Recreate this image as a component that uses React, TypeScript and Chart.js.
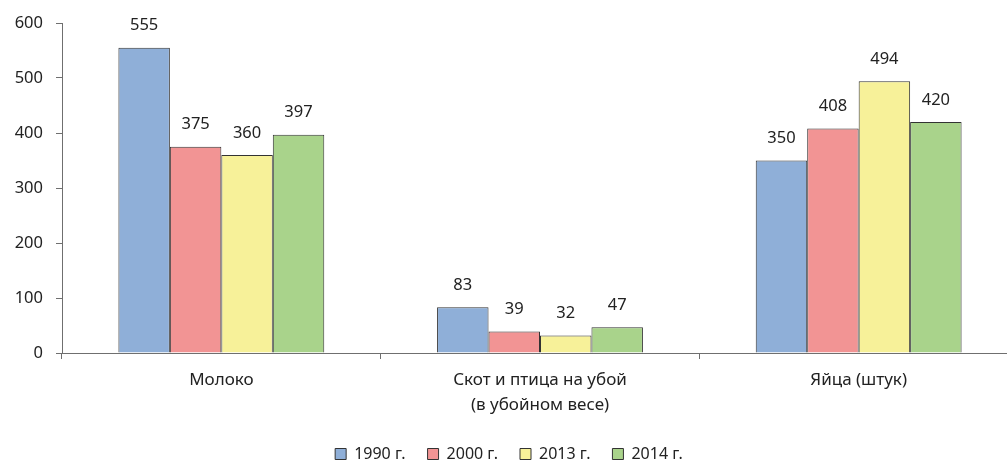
import React, { useEffect, useRef } from "react";
import { Chart, registerables } from "chart.js";

Chart.register(...registerables);

const categories: (string | string[])[] = [
  "Молоко",
  ["Скот и птица на убой", "(в убойном весе)"],
  "Яйца (штук)",
];
const seriesNames = ["1990 г.", "2000 г.", "2013 г.", "2014 г."];
const values1990 = [555, 83, 350];
const values2000 = [375, 39, 408];
const values2013 = [360, 32, 494];
const values2014 = [397, 47, 420];
const fillColors = ["#8FAFD8", "#F29494", "#F7F199", "#A9D38B"];
const yTicksMin = 0;
const yTicksMax = 600;
const yStep = 100;

const FONT = "'Noto Sans', 'Open Sans', sans-serif";
const TEXT = "#222222";
const AXIS = "#6F6F6F";

const W = 1030;
const H = 472;

const dataLabels = {
  id: "dataLabels",
  afterDatasetsDraw(chart: any) {
    const ctx = chart.ctx;
    ctx.save();
    ctx.font = `16.5px ${FONT}`;
    ctx.fillStyle = TEXT;
    ctx.textAlign = "center";
    ctx.textBaseline = "middle";
    chart.data.datasets.forEach((ds: any, i: number) => {
      const meta = chart.getDatasetMeta(i);
      meta.data.forEach((bar: any, j: number) => {
        ctx.fillText(String(ds.data[j]), bar.x, bar.y - 22);
      });
    });
    ctx.restore();
  },
};

export default function App() {
  const ref = useRef<HTMLCanvasElement>(null);
  useEffect(() => {
    if (!ref.current) return;
    const all = [values1990, values2000, values2013, values2014];
    const chart = new Chart(ref.current, {
      type: "bar",
      data: {
        labels: categories,
        datasets: all.map((vals, i) => ({
          label: seriesNames[i],
          data: vals,
          backgroundColor: fillColors[i],
          borderColor: "#333333",
          borderWidth: 1,
          categoryPercentage: 0.646,
          barPercentage: 1,
        })),
      },
      options: {
        animation: false,
        responsive: false,
        devicePixelRatio: 1,
        layout: { padding: { left: 0, right: 12, top: 23, bottom: 0 } },
        plugins: {
          tooltip: { enabled: false },
          legend: {
            position: "bottom",
            labels: {
              boxWidth: 11,
              boxHeight: 11,
              padding: 22,
              color: TEXT,
              font: { family: FONT, size: 16 },
            },
          },
        },
        scales: {
          x: {
            offset: true,
            grid: {
              offset: true,
              drawOnChartArea: false,
              drawTicks: true,
              tickLength: 6,
              color: AXIS,
            },
            border: { display: true, color: AXIS, width: 1 },
            ticks: {
              color: TEXT,
              padding: 9,
              maxRotation: 0,
              font: { family: FONT, size: 17, lineHeight: 1.45 },
            },
            afterFit(scale: any) {
              scale.height = 71;
            },
          },
          y: {
            min: yTicksMin,
            max: yTicksMax,
            grid: {
              drawOnChartArea: false,
              drawTicks: true,
              tickLength: 6,
              color: AXIS,
            },
            border: { display: true, color: AXIS, width: 1 },
            ticks: {
              stepSize: yStep,
              color: TEXT,
              padding: 13,
              font: { family: FONT, size: 16.5 },
            },
            afterFit(scale: any) {
              scale.width = 62;
            },
          },
        },
      },
      plugins: [dataLabels],
    });
    return () => chart.destroy();
  }, []);
  return (
    <div
      style={{
        position: "fixed",
        left: 0,
        top: 0,
        width: 1007,
        height: 463,
        overflow: "hidden",
        background: "#fff",
      }}
    >
      <canvas ref={ref} width={W} height={H} style={{ width: W, height: H, display: "block" }} />
    </div>
  );
}
